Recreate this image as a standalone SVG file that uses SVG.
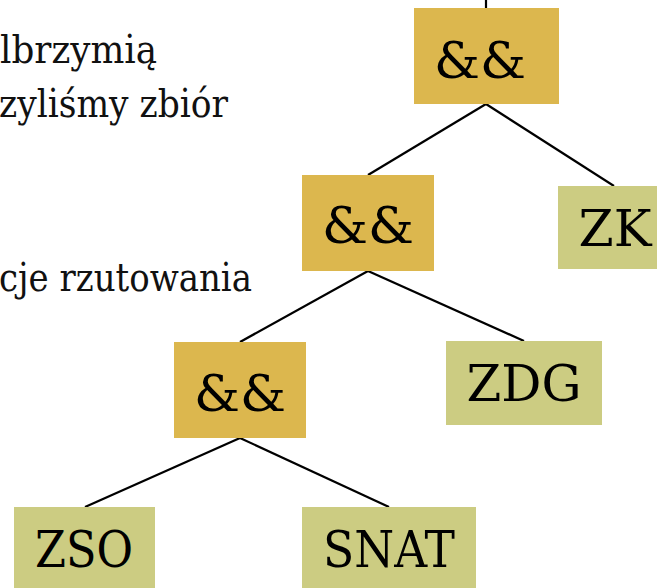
<svg xmlns="http://www.w3.org/2000/svg" width="657" height="588" viewBox="0 0 657 588">
  <style>
    .and { fill: #dcb74e; }
    .leaf { fill: #cccc82; }
    .lbl { font-family: 'DejaVu Serif', serif; font-size: 51px; fill: #000; text-anchor: middle; }
    .body { font-family: 'DejaVu Serif', serif; font-size: 40px; fill: #111; text-anchor: end; }
    .edge { stroke: #000; stroke-width: 2.2; fill: none; }
  </style>
  <rect width="657" height="588" fill="#fff"/>

  <!-- slide body text, continuing past the left edge -->
  <g id="body-text">
    <text class="body" x="157" y="63" textLength="157" lengthAdjust="spacingAndGlyphs">lbrzymią</text>
    <text class="body" x="228" y="117" textLength="229" lengthAdjust="spacingAndGlyphs">zyliśmy zbiór</text>
    <text class="body" x="252" y="291" textLength="253" lengthAdjust="spacingAndGlyphs">cje rzutowania</text>
  </g>

  <g id="connectors">
    <line class="edge" x1="486" y1="0" x2="486" y2="8"/>
    <line class="edge" x1="486" y1="104" x2="368" y2="175"/>
    <line class="edge" x1="486" y1="104" x2="614" y2="186"/>
    <line class="edge" x1="368" y1="271" x2="240" y2="342"/>
    <line class="edge" x1="368" y1="271" x2="524" y2="341"/>
    <line class="edge" x1="240" y1="438" x2="85" y2="507"/>
    <line class="edge" x1="240" y1="438" x2="389" y2="507"/>
  </g>

  <g id="and1">
    <rect class="and" x="414" y="8" width="145" height="96"/>
    <text class="lbl" x="480" y="78" textLength="92" lengthAdjust="spacingAndGlyphs">&amp;&amp;</text>
  </g>
  <g id="and2">
    <rect class="and" x="302" y="175" width="132" height="96"/>
    <text class="lbl" x="368" y="243" textLength="92" lengthAdjust="spacingAndGlyphs">&amp;&amp;</text>
  </g>
  <g id="zk">
    <rect class="leaf" x="558" y="186" width="99" height="83"/>
    <text class="lbl" x="615" y="246" textLength="73" lengthAdjust="spacingAndGlyphs">ZK</text>
  </g>
  <g id="and3">
    <rect class="and" x="174" y="342" width="132" height="96"/>
    <text class="lbl" x="240" y="411" textLength="92" lengthAdjust="spacingAndGlyphs">&amp;&amp;</text>
  </g>
  <g id="zdg">
    <rect class="leaf" x="446" y="341" width="156" height="84"/>
    <text class="lbl" x="524" y="401" textLength="115" lengthAdjust="spacingAndGlyphs">ZDG</text>
  </g>
  <g id="zso">
    <rect class="leaf" x="14" y="507" width="141" height="81"/>
    <text class="lbl" x="84" y="567" textLength="98" lengthAdjust="spacingAndGlyphs">ZSO</text>
  </g>
  <g id="snat">
    <rect class="leaf" x="302" y="507" width="174" height="81"/>
    <text class="lbl" x="389" y="567" textLength="132" lengthAdjust="spacingAndGlyphs">SNAT</text>
  </g>
</svg>
